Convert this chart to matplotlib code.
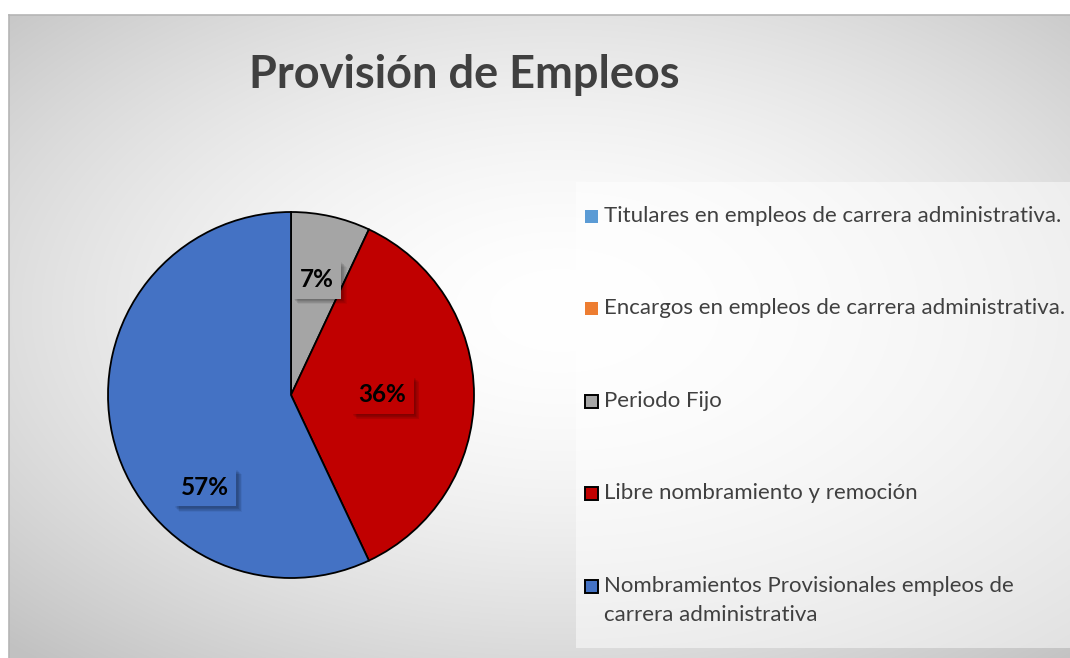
import numpy as np
import matplotlib
matplotlib.use("Agg")
import matplotlib.pyplot as plt
from matplotlib.patches import Rectangle
import matplotlib.patheffects as pe

# Data
categories = [
    "Titulares en empleos de carrera administrativa.",
    "Encargos en empleos de carrera administrativa.",
    "Periodo Fijo",
    "Libre nombramiento y remoción",
    "Nombramientos Provisionales empleos de\ncarrera administrativa",
]
values = [0, 0, 7, 36, 57]
colors = ["#5B9BD5", "#ED7D31", "#A5A5A5", "#C00000", "#4472C4"]
title = "Provisión de Empleos"

W, H = 1070, 658
fig = plt.figure(figsize=(W / 100, H / 100), dpi=100)
fig.patch.set_facecolor("white")

# Chart-area background: radial grey gradient
bg = fig.add_axes([0, 0, 1, 1], zorder=0)
bg.set_axis_off()
yy, xx = np.mgrid[0:H, 0:W]
cx, cy = 560, 310
d = np.sqrt(((xx - cx) / 560.0) ** 2 + ((yy - cy) / 330.0) ** 2)
v = 255 - 62 * np.clip(d / 1.42, 0, 1) ** 1.7
img = np.dstack([v, v, v]) / 255.0
x0, y0 = 9, 15
img[:y0, :, :] = 1.0
img[:, :x0, :] = 1.0
bg.imshow(img, extent=[0, W, H, 0], aspect="auto", interpolation="bilinear")
bg.set_xlim(0, W)
bg.set_ylim(H, 0)
bg.plot([x0, W], [y0, y0], color="#b5b5b5", lw=1.2)
bg.plot([x0, x0], [y0, H], color="#b5b5b5", lw=1.2)

# Legend panel (semi-transparent white)
bg.add_patch(Rectangle((576, 182), W - 576, 648 - 182, facecolor="white",
                       alpha=0.5, edgecolor="none"))

# Title
fig.text(464 / W, 1 - 75 / H, title, ha="center", va="center",
         fontsize=32.5, fontweight="bold", color="#404040", family="Lato")

# Pie
R = 183
pcx, pcy = 291, 395
half = 1.2 * R
ax = fig.add_axes([(pcx - half) / W, (H - pcy - half) / H, 2 * half / W, 2 * half / H], zorder=2)
ax.set_axis_off()
wedges, _ = ax.pie(values, colors=colors, startangle=90, counterclock=False,
                   radius=1.0, wedgeprops=dict(edgecolor="black", linewidth=1.3),
                   normalize=True)
ax.set_xlim(-1.2, 1.2)
ax.set_ylim(-1.2, 1.2)

# Data labels, placed along each wedge (radial distance, angle offset)
label_layout = {2: (0.645, 0.0), 3: (0.50, 0.0), 4: (0.69, 34.6)}
total = float(sum(values))
shadow = [pe.SimplePatchShadow(offset=(o, -o), shadow_rgbFace="black", alpha=0.05)
          for o in (1, 1.5, 2, 2.5, 3, 3.5, 4)] + [pe.Normal()]
for i, w in enumerate(wedges):
    if values[i] == 0:
        continue
    dist, dang = label_layout[i]
    ang = np.deg2rad((w.theta1 + w.theta2) / 2 + dang)
    t = ax.text(dist * np.cos(ang), dist * np.sin(ang), f"{values[i] / total * 100:.0f}%",
                ha="center", va="center", fontsize=17.5, fontweight="bold", color="black",
                family="Lato",
                bbox=dict(boxstyle="square,pad=0.3", facecolor=colors[i], edgecolor="none"))
    t.get_bbox_patch().set_path_effects(shadow)

# Legend entries
leg_y = [216, 308, 401, 493, 586]
edge = [None, None, "black", "black", "black"]
for lab, col, y, ec in zip(categories, colors, leg_y, edge):
    s = 13
    bg.add_patch(Rectangle((585, y - s / 2), s, s, facecolor=col,
                           edgecolor=ec if ec else "none", lw=1.4, zorder=3))
    if "\n" in lab:
        bg.text(604, y - 10, lab, ha="left", va="top", fontsize=16, color="#404040",
                family="Lato", linespacing=1.55, zorder=3)
    else:
        bg.text(604, y, lab, ha="left", va="center", fontsize=16, color="#404040",
                family="Lato", zorder=3)

fig.savefig("out.png", dpi=100)
